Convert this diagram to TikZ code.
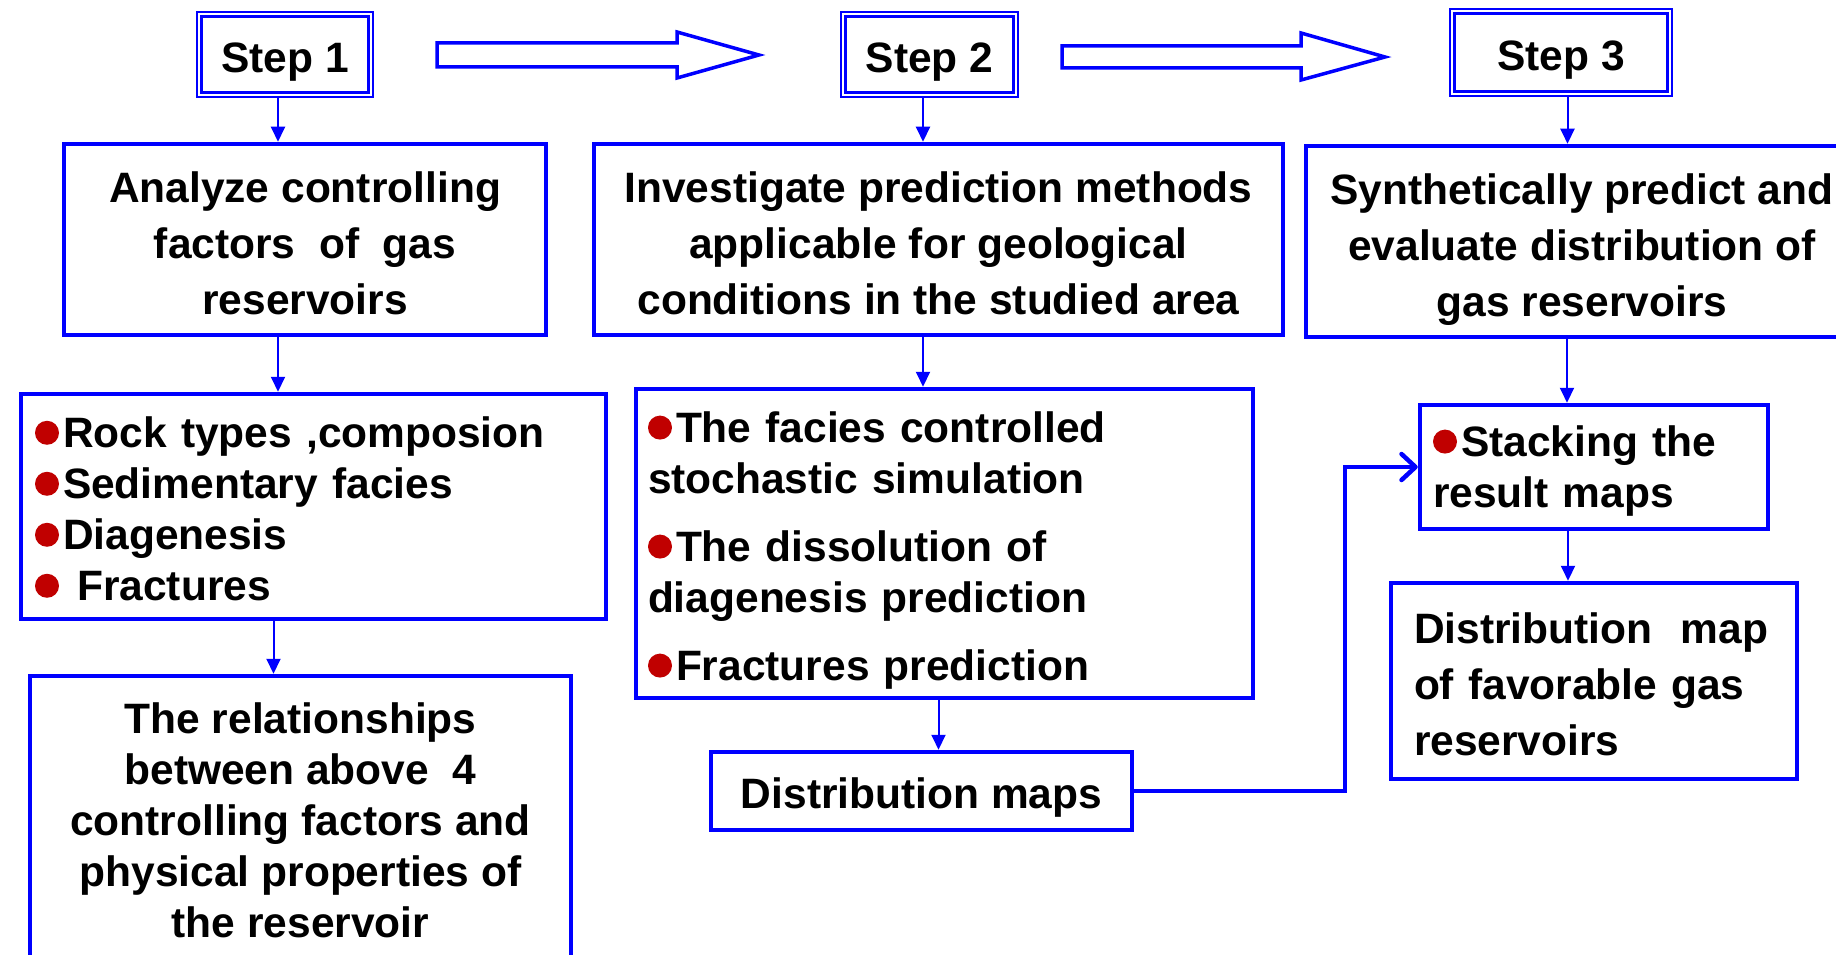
\documentclass[tikz,border=0pt]{standalone}
\usepackage{fontspec}
\setmainfont{Liberation Sans}
\usetikzlibrary{arrows.meta}
\definecolor{bred}{HTML}{C00000}
\definecolor{pblue}{HTML}{0000FF}
\newcommand{\bul}{\tikz[baseline=0pt]\fill[bred] (12pt,15pt) circle[radius=12pt];\hspace{4pt}}
\newcommand{\tallstrut}{\rule{0pt}{38pt}}
\begin{document}
\begin{tikzpicture}[x=1pt,y=-1pt,
  box/.style={draw=pblue, line width=4.5pt, inner sep=0pt, align=center,
    font=\bfseries\fontsize{42.5}{56}\selectfont},
  lbox/.style={box, align=left, font=\bfseries\fontsize{42.5}{51}\selectfont},
  stepbox/.style={draw=pblue, line width=1.2pt, inner sep=0pt,
    font=\bfseries\fontsize{42.5}{51}\selectfont, text height=37pt, text depth=0pt},
  stepin/.style={draw=pblue, line width=3.5pt},
  conn/.style={draw=pblue, line width=2pt, -{Triangle[length=15pt,width=14pt]}},
  fconn/.style={draw=pblue, line width=4.5pt, -{Straight Barb[round,length=14pt,width=26pt]}},
  hollow/.style={draw=pblue, line width=3.5pt, fill=white, line join=miter}
]
\useasboundingbox (0,0) rectangle (1836,955);

% step boxes
\node[stepbox, minimum width=176pt, minimum height=85pt] (s1) at (285,54.5) {Step 1};
\node[stepbox, minimum width=177pt, minimum height=85pt] (s2) at (929.5,54.5) {Step 2};
\node[stepbox, minimum width=222pt, minimum height=87pt] (s3) at (1561,52.5) {Step 3};
\foreach \s in {s1,s2,s3}
  \draw[stepin] ([shift={(5,5)}]\s.north west) rectangle ([shift={(-5,-5)}]\s.south east);

% hollow arrows
\draw[hollow] (437,43) -- (677,43) -- (677,32) -- (759,55) -- (677,78) -- (677,67) -- (437,67) -- cycle;
\draw[hollow] (1062,46) -- (1301,46) -- (1301,33) -- (1385,57) -- (1301,80) -- (1301,68) -- (1062,68) -- cycle;

% second row
\node[box, minimum width=482pt, minimum height=191pt] (A) at (305,239.5)
  {\tallstrut Analyze controlling\\factors\ \ of\ \ gas\\reservoirs};
\node[box, minimum width=689pt, minimum height=191pt] (B) at (938.5,239.5)
  {\tallstrut Investigate prediction methods\\applicable for geological\\conditions in the studied area};
\node[box, minimum width=552pt, minimum height=191pt] (C) at (1582,241.5)
  {\rule{0pt}{47pt}Synthetically predict and\\evaluate distribution of\\gas reservoirs};

% third row
\node[lbox, minimum height=225pt, inner xsep=14pt, text width=557pt, text height=36pt] (D) at (313.5,506.5)
  {\bul Rock types ,composion\\\bul Sedimentary facies\\\bul Diagenesis\\\bul\ Fractures};
\node[lbox, minimum height=309pt, inner xsep=12pt, text width=593pt, text height=45pt] (E) at (944.5,543.5)
  {\bul The facies controlled\\stochastic simulation\\[17pt]\bul The dissolution of\\diagenesis prediction\\[17pt]\bul Fractures prediction};
\node[lbox, minimum height=124pt, inner xsep=13pt, text width=322pt, text height=39pt] (F) at (1594,467)
  {\bul Stacking the\\result maps};
\node[lbox, minimum height=196pt, inner xsep=23pt, text width=360pt, text height=38pt,
  font=\bfseries\fontsize{42.5}{56}\selectfont] (G) at (1594,681)
  {Distribution\ \ map\\of favorable gas\\reservoirs};

% fourth row
\node[box, minimum width=541pt, minimum height=289pt,
  font=\bfseries\fontsize{42.5}{51}\selectfont] (H) at (300.5,820.5)
  {The relationships\\between above\ \ 4\\controlling factors and\\physical properties of\\the reservoir};
\node[box, minimum width=421pt, minimum height=78pt, text height=34pt, text depth=0pt] (I) at (921.5,791)
  {Distribution maps};

% connectors
\draw[conn] ([xshift=-7pt]s1.south) -- ([xshift=-7pt]s1.south |- A.north);
\draw[conn] ([xshift=-6.5pt]s2.south) -- ([xshift=-6.5pt]s2.south |- B.north);
\draw[conn] ([xshift=6.5pt]s3.south) -- ([xshift=6.5pt]s3.south |- C.north);
\draw[conn] ([xshift=-27pt]A.south) -- ([xshift=-27pt]A.south |- D.north);
\draw[conn] ([xshift=-15.5pt]B.south) -- ([xshift=-15.5pt]B.south |- E.north);
\draw[conn] ([xshift=-15pt]C.south) -- ([xshift=-15pt]C.south |- F.north);
\draw[conn] ([xshift=-40pt]D.south) -- ([xshift=-40pt]D.south |- H.north);
\draw[conn] ([xshift=-6pt]E.south) -- ([xshift=-6pt]E.south |- I.north);
\draw[conn] ([xshift=-26pt]F.south) -- ([xshift=-26pt]F.south |- G.north);
\coordinate (bend) at ([xshift=-73pt]F.west);
\draw[fconn] (I.east) -| (bend) -- (F.west);
\end{tikzpicture}
\end{document}
